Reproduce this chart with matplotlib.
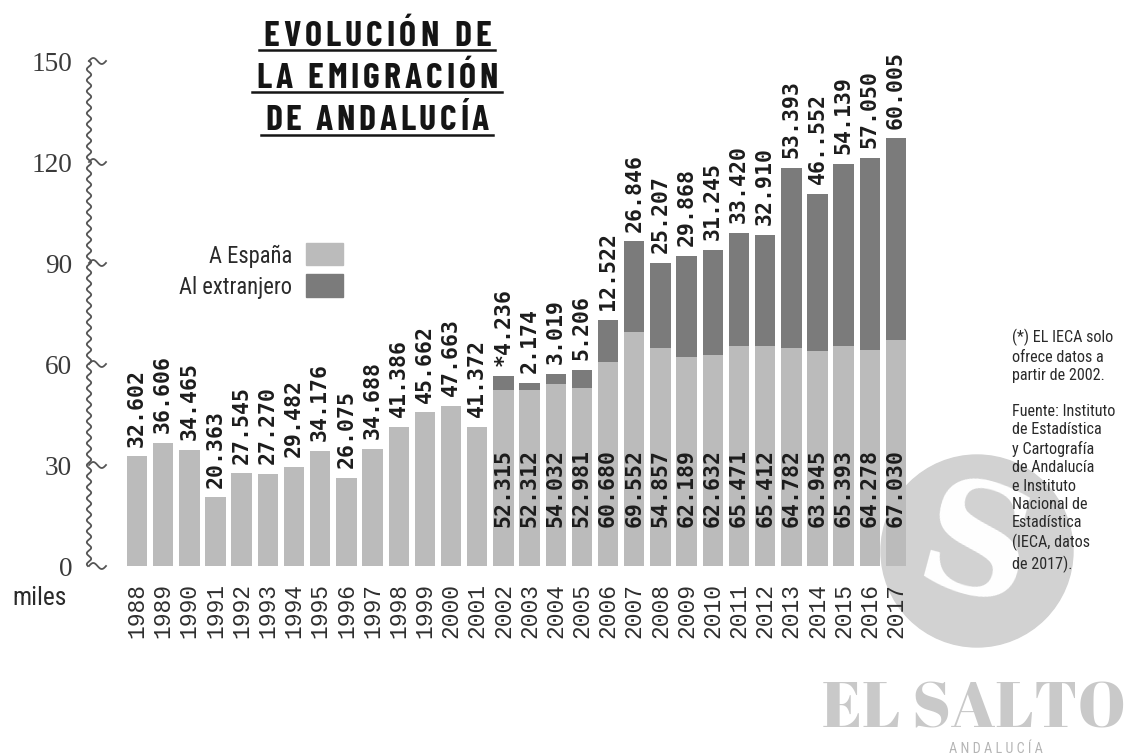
import matplotlib
matplotlib.use("Agg")
import matplotlib.pyplot as plt
from matplotlib import font_manager as fm
from matplotlib.patches import Ellipse, Rectangle
from matplotlib.lines import Line2D
from matplotlib.textpath import TextPath
import numpy as np

# ---------------- data (thousands of people) ----------------
years = [str(y) for y in range(1988, 2018)]
# light series: total emigration 1988-2001, "A España" from 2002
a_espana = [32.602, 36.606, 34.465, 20.363, 27.545, 27.270, 29.482, 34.176,
            26.075, 34.688, 41.386, 45.662, 47.663, 41.372,
            52.315, 52.312, 54.032, 52.981, 60.680, 69.552, 64.857, 62.189,
            62.632, 65.471, 65.412, 64.782, 63.945, 65.393, 64.278, 67.030]
al_extranjero = [0, 0, 0, 0, 0, 0, 0, 0, 0, 0, 0, 0, 0, 0,
                 4.236, 2.174, 3.019, 5.206, 12.522, 26.846, 25.207, 29.868,
                 31.245, 33.420, 32.910, 53.393, 46.552, 54.139, 57.050, 60.005]
top_labels = ["32.602", "36.606", "34.465", "20.363", "27.545", "27.270",
              "29.482", "34.176", "26.075", "34.688", "41.386", "45.662",
              "47.663", "41.372", "*4.236", "2.174", "3.019", "5.206",
              "12.522", "26.846", "25.207", "29.868", "31.245", "33.420",
              "32.910", "53.393", "46..552", "54.139", "57.050", "60.005"]
inner_labels = ["", "", "", "", "", "", "", "", "", "", "", "", "", "",
                "52.315", "52.312", "54.032", "52.981", "60.680", "69.552",
                "54.857", "62.189", "62.632", "65.471", "65.412", "64.782",
                "63.945", "65.393", "64.278", "67.030"]
yticks = [0, 30, 60, 90, 120, 150]
series_names = ["A España", "Al extranjero"]
title_lines = ["EVOLUCIÓN DE", "LA EMIGRACIÓN", "DE ANDALUCÍA"]
note1 = "(*) EL IECA solo\nofrece datos a\npartir de 2002."
note2 = ("Fuente: Instituto\nde Estadística\ny Cartografía\nde Andalucía\n"
         "e Instituto\nNacional de\nEstadística\n(IECA, datos\nde 2017).")

LIGHT = "#bbbbbb"
DARK = "#7b7b7b"
INK = "#1c1c1c"

W, H = 1126, 754


def pick(cands):
    for c in cands:
        try:
            fm.findfont(fm.FontProperties(family=c), fallback_to_default=False)
            return c
        except Exception:
            continue
    return "DejaVu Sans"


F_TITLE = pick(["Barlow Condensed", "Asap Condensed", "Roboto Condensed", "DejaVu Sans"])
F_COND = pick(["Roboto Condensed", "Barlow Condensed", "Archivo Narrow", "DejaVu Sans"])
F_VAL = pick(["DejaVu Sans Mono"])
F_YEAR = pick(["Liberation Mono", "DejaVu Sans Mono"])
F_YTICK = pick(["Liberation Serif", "DejaVu Serif"])
F_LOGO = pick(["Abril Fatface", "Alfa Slab One", "Liberation Serif"])


def cap_fs(family, px, weight="normal", ch="H"):
    """font size (pt) giving a glyph ink height of `px` pixels."""
    fp = fm.FontProperties(family=family, weight=weight)
    h = TextPath((0, 0), ch, size=100, prop=fp).get_extents().height
    return px * 0.72 / (h / 100.0)


def P(x, y):
    return x / W, 1 - y / H


fig = plt.figure(figsize=(W / 100, H / 100), dpi=100)
fig.patch.set_facecolor("white")
renderer = fig.canvas.get_renderer()

# ---------------- axes ----------------
ax_left, ax_right, y0px, y150px = 100, 930, 566, 61
ax = fig.add_axes([ax_left / W, 1 - y0px / H, (ax_right - ax_left) / W, (y0px - y150px) / H])
ax.patch.set_alpha(0)
x = np.arange(len(years))
step = (896 - 137) / 29.0
ax.set_xlim((ax_left - 137) / step, (ax_right - 137) / step)
ax.set_ylim(0, 150)
for s in ax.spines.values():
    s.set_visible(False)

bw = 0.78
ax.bar(x, a_espana, width=bw, color=LIGHT, zorder=2)
ax.bar(x, al_extranjero, bottom=a_espana, width=bw, color=DARK, zorder=2)

fs_val = 15.5
for i in x:
    tot = a_espana[i] + al_extranjero[i]
    ax.annotate(top_labels[i], (i, tot), xytext=(0, 7), textcoords="offset points",
                rotation=90, ha="center", va="bottom", fontsize=fs_val,
                family=F_VAL, weight="bold", color=INK, zorder=4)
    if inner_labels[i]:
        ax.text(i, 11.5, inner_labels[i], rotation=90, ha="center", va="bottom",
                fontsize=fs_val, family=F_VAL, weight="bold", color=INK, zorder=4)

ax.set_xticks(x, years, rotation=90, family=F_YEAR, fontsize=16.5, color="#2e2e2e",
              va="top")
ax.tick_params(axis="x", length=0, pad=12)
fs_yt = cap_fs(F_YTICK, 18, ch="1")
ax.set_yticks(yticks, [str(v) for v in yticks], family=F_YTICK, fontsize=fs_yt,
              color="#3a3a3a")
ax.tick_params(axis="y", length=0, pad=20)

# ---------------- wavy y axis ----------------
def ypx(v):
    d = ax.transData.transform((0, v))
    return H - d[1]

top_px, bot_px = ypx(150), ypx(0)
yy = np.linspace(top_px, bot_px, 600)
xx = 89 + 2.2 * np.sin(2 * np.pi * (yy - top_px) / 11.0)
fig.add_artist(Line2D(xx / W, 1 - yy / H, color="#555555", lw=1.3))
for v in yticks:
    t = np.linspace(0, 1, 60)
    tx = 89 + 17 * t
    ty = ypx(v) - 3.0 * np.sin(2 * np.pi * t)
    fig.add_artist(Line2D(tx / W, 1 - ty / H, color="#555555", lw=1.3))

fs_miles = cap_fs(F_COND, 19, ch="l")
fig.text(*P(12, 605), "miles", family=F_COND, fontsize=fs_miles, color="#2a2a2a",
         ha="left", va="baseline")

# ---------------- helpers for tracked text ----------------
def tw(s, **kw):
    t = fig.text(0, 0, s, **kw)
    w = t.get_window_extent(renderer).width
    t.remove()
    return w


def tracked(xc, ybase, s, target_w, **kw):
    hh = tw("HH", **kw)
    advs = [tw("H" + c + "H", **kw) - hh for c in s]
    nat = sum(advs)
    track = (target_w - nat) / max(len(s) - 1, 1)
    total = nat + track * (len(s) - 1)
    xpos = xc - total / 2
    x0 = xpos
    for c, a in zip(s, advs):
        fig.text(*P(xpos, ybase), c, ha="left", va="baseline", **kw)
        xpos += a + track
    return x0, x0 + total

# ---------------- title ----------------
fs_title = cap_fs(F_TITLE, 25, weight="bold")
tkw = dict(family=F_TITLE, weight="bold", fontsize=fs_title, color="#151515")
for line, yb, yu, wt in zip(title_lines, [46, 88, 130], [50, 92, 135], [228, 242, 224]):
    a, b = tracked(377, yb, line, wt, **tkw)
    fig.add_artist(Line2D([(a - 4) / W, (b + 4) / W], [1 - yu / H, 1 - yu / H],
                          color="#151515", lw=1.8))

# ---------------- legend ----------------
fs_leg = cap_fs(F_COND, 16)
for name, col, yc, (r0, r1) in zip(series_names, [LIGHT, DARK], [254, 285],
                                   [(243, 265), (274, 297)]):
    fig.text(*P(292, yc), name, ha="right", va="center_baseline", family=F_COND,
             fontsize=fs_leg, color="#2a2a2a")
    fig.add_artist(Rectangle(P(306, r1), 37 / W, (r1 - r0) / H, color=col,
                             transform=fig.transFigure))

# ---------------- notes ----------------
fs_note = cap_fs(F_COND, 11.5)
fig.text(*P(1012, 329), note1, ha="left", va="top", family=F_COND, fontsize=fs_note,
         color="#2a2a2a", linespacing=1.28)
fig.text(*P(1012, 404), note2, ha="left", va="top", family=F_COND, fontsize=fs_note,
         color="#2a2a2a", linespacing=1.28)

# ---------------- watermark logo ----------------
fig.add_artist(Ellipse(P(977, 551), 192 / W, 192 / H, color="#d2d2d2",
                       transform=fig.transFigure, zorder=-2))
fig.text(*P(975, 553), "S", ha="center", va="center", family="DejaVu Serif",
         weight="bold", fontsize=110, color="white", zorder=-1, rotation=-15)
fs_logo = cap_fs(F_LOGO, 45, weight="bold")
fig.text(*P(974, 728), "EL SALTO", ha="center", va="baseline", family=F_LOGO,
         weight="bold", fontsize=fs_logo, color="#c9c9c9")
fig.text(*P(996, 753), "A N D A L U C Í A", ha="center", va="baseline",
         family=F_COND, fontsize=cap_fs(F_COND, 10), color="#b5b5b5")

fig.savefig("out.png", dpi=100)
